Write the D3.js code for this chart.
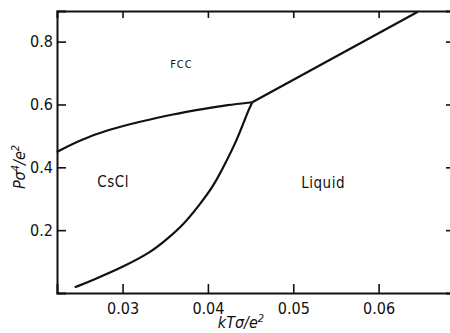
<!DOCTYPE html>
<html>
<head>
<meta charset="utf-8">
<script src="https://cdn.jsdelivr.net/npm/d3@7/dist/d3.min.js"></script>
<style>
  html, body { margin: 0; padding: 0; background: #fff; }
  svg { display: block; }
  .tick text { font-family: "Liberation Sans Narrow", "DejaVu Sans Condensed", "Liberation Sans", sans-serif; font-size: 16px; fill: #111; }
  .lbl { font-family: "Liberation Sans Narrow", "DejaVu Sans Condensed", "Liberation Sans", sans-serif; fill: #111; }
</style>
</head>
<body>
<svg id="chart" width="450" height="333"></svg>
<script>
// Axis ticks
const xTicks = [0.03, 0.04, 0.05, 0.06];
const yTicks = [0.2, 0.4, 0.6, 0.8];

// FCC / CsCl coexistence line
const fccCsclT = [0.0223, 0.0250, 0.0285, 0.0320, 0.0359, 0.0398, 0.0422, 0.0452];
const fccCsclP = [0.449, 0.487, 0.521, 0.545, 0.569, 0.587, 0.598, 0.607];

// CsCl / liquid coexistence line
const csclLiqT = [0.0244, 0.0265, 0.0300, 0.0334, 0.0351, 0.0371, 0.0390, 0.0407, 0.0421, 0.0433, 0.0443, 0.0448, 0.0452];
const csclLiqP = [0.018, 0.041, 0.082, 0.131, 0.169, 0.216, 0.280, 0.342, 0.416, 0.481, 0.550, 0.585, 0.607];

// FCC / liquid melting line
const meltT = [0.0452, 0.0646];
const meltP = [0.607, 0.895];

// Phase labels
const phaseNames = ["FCC", "CsCl", "Liquid"];
const phaseT = [0.0369, 0.0289, 0.0535];
const phaseP = [0.725, 0.352, 0.347];
const phaseSize = [11, 15, 15];

const svg = d3.select("#chart");
const mLeft = 57, mRight = 451, mTop = 11, mBottom = 293;

const x = d3.scaleLinear().domain([0.02232, 0.06848]).range([mLeft, mRight]);
const y = d3.scaleLinear().domain([0, 0.8975]).range([mBottom, mTop]);

// Frame axes
const gB = svg.append("g").attr("transform", `translate(0,${mBottom})`)
  .call(d3.axisBottom(x).tickValues(xTicks).tickSize(-9).tickPadding(9.5)
    .tickFormat(d => d3.format(".2f")(d)));
const gL = svg.append("g").attr("transform", `translate(${mLeft},0)`)
  .call(d3.axisLeft(y).tickValues(yTicks).tickSize(-9).tickPadding(4)
    .tickFormat(d => d3.format(".1f")(d)));
const gT = svg.append("g").attr("transform", `translate(0,${mTop})`)
  .call(d3.axisTop(x).tickValues(xTicks).tickSize(-7).tickFormat(""));
const gR = svg.append("g").attr("transform", `translate(${mRight},0)`)
  .call(d3.axisRight(y).tickValues(yTicks).tickSize(-5).tickFormat(""));

[gB, gL, gT, gR].forEach(g => {
  g.attr("font-family", null).attr("font-size", null);
  g.select(".domain").attr("stroke", "#111").attr("stroke-width", 2);
  g.selectAll(".tick line").attr("stroke", "#111").attr("stroke-width", 1.6);
});

// Phase boundaries (smoothed B-spline through the traced points)
const line = d3.line().x(d => x(d[0])).y(d => y(d[1])).curve(d3.curveBasis);
const curves = [
  d3.zip(fccCsclT, fccCsclP),
  d3.zip(csclLiqT, csclLiqP),
  d3.zip(meltT, meltP)
];
svg.append("g").selectAll("path").data(curves).join("path")
  .attr("d", line)
  .attr("fill", "none")
  .attr("stroke", "#111")
  .attr("stroke-width", 2.2)
  .attr("stroke-linejoin", "round");

// Phase labels
svg.append("g").selectAll("text").data(phaseNames).join("text")
  .attr("class", "lbl")
  .attr("x", (d, i) => x(phaseT[i]))
  .attr("y", (d, i) => y(phaseP[i]))
  .attr("text-anchor", "middle")
  .attr("dominant-baseline", "middle")
  .attr("font-size", (d, i) => phaseSize[i])
  .attr("letter-spacing", (d, i) => i === 0 ? 1 : 0.5)
  .text(d => d);

// Axis titles
const xt = svg.append("text").attr("class", "lbl")
  .attr("x", 241).attr("y", 328)
  .attr("text-anchor", "middle")
  .attr("font-size", 16).attr("font-style", "italic");
xt.append("tspan").text("kTσ/e");
xt.append("tspan").attr("dy", -6).attr("font-size", 11).text("2");

const yt = svg.append("text").attr("class", "lbl")
  .attr("transform", "translate(25,167) rotate(-90)")
  .attr("text-anchor", "middle")
  .attr("font-size", 16).attr("font-style", "italic");
yt.append("tspan").text("Pσ");
yt.append("tspan").attr("dy", -6).attr("font-size", 11).text("4");
yt.append("tspan").attr("dy", 6).text("/e");
yt.append("tspan").attr("dy", -6).attr("font-size", 11).text("2");
</script>
</body>
</html>
